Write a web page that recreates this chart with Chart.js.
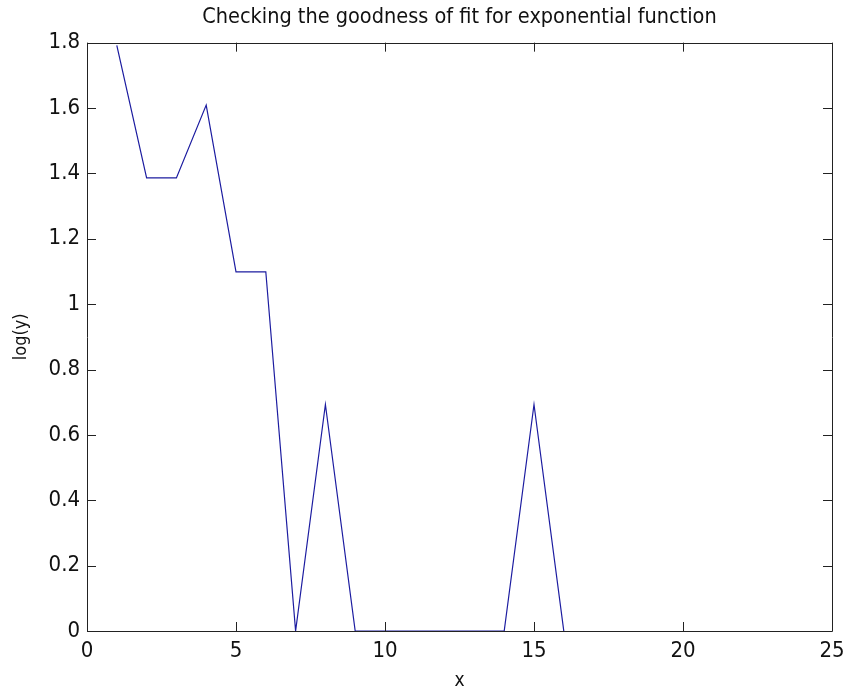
<!DOCTYPE html>
<html>
<head>
<meta charset="utf-8">
<script src="https://cdn.jsdelivr.net/npm/chart.js@4.4.1/dist/chart.umd.min.js"></script>
<style>
  html, body { margin: 0; padding: 0; background: #ffffff; }
  #wrap { width: 848px; height: 692px; }
</style>
</head>
<body>
<div id="wrap"><canvas id="c" width="848" height="692"></canvas></div>
<script>
// Data (x = 1..16, log(y))
const xValues = [1, 2, 3, 4, 5, 6, 7, 8, 9, 10, 11, 12, 13, 14, 15, 16];
const logYValues = [1.792, 1.386, 1.386, 1.609, 1.099, 1.099, 0, 0.693, 0, 0, 0, 0, 0, 0, 0.693, 0];
const xTicks = [0, 5, 10, 15, 20, 25];
const yTicks = [0, 0.2, 0.4, 0.6, 0.8, 1, 1.2, 1.4, 1.6, 1.8];
const yTickLabels = ['0', '0.2', '0.4', '0.6', '0.8', '1', '1.2', '1.4', '1.6', '1.8'];
const titleText = 'Checking the goodness of fit for exponential function';
const xTitle = 'x';
const yTitle = 'log(y)';

const FONT = "'Liberation Sans Narrow', 'DejaVu Sans Condensed', 'Liberation Sans', Arial, sans-serif";
const AX = '#222222';

const boxTicks = {
  id: 'boxTicks',
  afterDatasetsDraw(chart) {
    const { ctx, chartArea: a, scales } = chart;
    const L = 9;
    ctx.save();
    ctx.strokeStyle = AX;
    ctx.lineWidth = 1;
    ctx.beginPath();
    ctx.rect(Math.round(a.left) + 0.5, Math.round(a.top) + 0.5,
             Math.round(a.right - a.left), Math.round(a.bottom - a.top));
    ctx.stroke();
    ctx.beginPath();
    scales.x.ticks.forEach((t, i) => {
      const px = Math.round(scales.x.getPixelForTick(i)) + 0.5;
      ctx.moveTo(px, a.bottom); ctx.lineTo(px, a.bottom - L);
      ctx.moveTo(px, a.top); ctx.lineTo(px, a.top + L);
    });
    scales.y.ticks.forEach((t, i) => {
      const py = Math.round(scales.y.getPixelForTick(i)) + 0.5;
      ctx.moveTo(a.left, py); ctx.lineTo(a.left + L, py);
      ctx.moveTo(a.right, py); ctx.lineTo(a.right - L, py);
    });
    ctx.stroke();
    ctx.restore();
  }
};

new Chart(document.getElementById('c'), {
  type: 'line',
  data: {
    datasets: [{
      data: xValues.map((x, i) => ({ x: x, y: logYValues[i] })),
      borderColor: '#1c1ca0',
      borderWidth: 1.2,
      pointRadius: 0,
      tension: 0,
      fill: false
    }]
  },
  options: {
    responsive: false,
    animation: false,
    devicePixelRatio: 1,
    layout: { padding: { left: 0, right: 16, top: 0, bottom: 0 } },
    plugins: {
      legend: { display: false },
      tooltip: { enabled: false },
      title: {
        display: true,
        text: titleText,
        fullSize: false,
        color: '#111',
        font: { family: FONT, size: 21.5, weight: 'normal', lineHeight: 1.1 },
        padding: { top: 6, bottom: 13 }
      }
    },
    scales: {
      x: {
        type: 'linear',
        min: 0, max: 25,
        afterBuildTicks: (s) => { s.ticks = xTicks.map(v => ({ value: v })); },
        afterFit: (s) => { s.height = 61; s.paddingLeft = 0; s.paddingRight = 0; },
        grid: { display: false, drawTicks: false },
        border: { display: false },
        ticks: {
          color: '#111',
          font: { family: FONT, size: 22, lineHeight: 1.1 },
          padding: 8,
          maxRotation: 0,
          callback: (v) => String(v)
        },
        title: {
          display: true,
          text: xTitle,
          color: '#111',
          font: { family: FONT, size: 19, lineHeight: 1.1 },
          padding: { top: 2, bottom: 0 }
        }
      },
      y: {
        type: 'linear',
        min: 0, max: 1.8,
        afterBuildTicks: (s) => { s.ticks = yTicks.map(v => ({ value: v })); },
        afterFit: (s) => { s.width = 87; s.paddingTop = 0; s.paddingBottom = 0; },
        grid: { display: false, drawTicks: false },
        border: { display: false },
        ticks: {
          color: '#111',
          font: { family: FONT, size: 22, lineHeight: 1.1 },
          padding: 7,
          callback: (v, i) => yTickLabels[i]
        },
        title: {
          display: true,
          text: yTitle,
          color: '#111',
          font: { family: FONT, size: 18, lineHeight: 1.1 },
          padding: { top: 11, bottom: 4 }
        }
      }
    }
  },
  plugins: [boxTicks]
});
</script>
</body>
</html>
